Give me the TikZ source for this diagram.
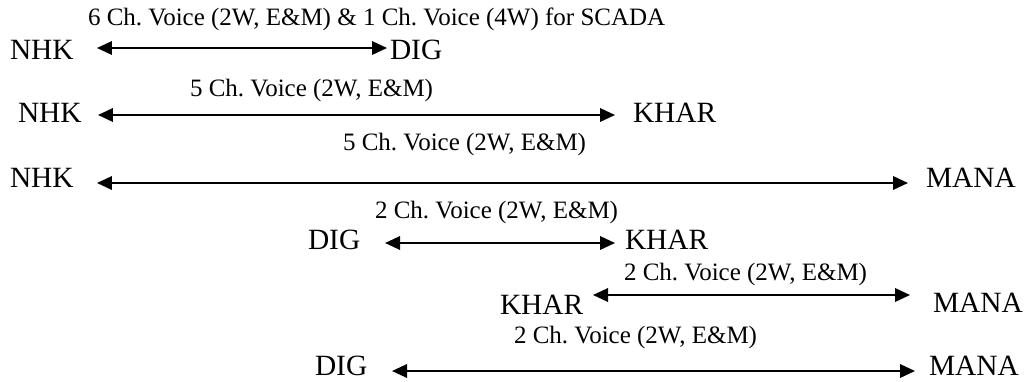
\documentclass[tikz,border=0pt]{standalone}
\usepackage{fontspec}
\setmainfont{Liberation Serif}
\usetikzlibrary{arrows.meta}
\frenchspacing
\begin{document}
\begin{tikzpicture}[x=1pt,y=-1pt,
  stn/.style={inner sep=0pt, outer sep=0pt, anchor=west, font=\fontsize{29.4pt}{35pt}\selectfont},
  lbl/.style={inner sep=0pt, outer sep=0pt, anchor=base west, font=\fontsize{25pt}{30pt}\selectfont},
  link/.style={line width=2pt, {Triangle[length=15pt,width=13.5pt]}-{Triangle[length=15pt,width=13.5pt]}}]
\useasboundingbox[fill=white] (0,0) rectangle (1028,381);
% row 1
\node[stn] (nhkA) at (10,50) {NHK};
\node[stn] (digA) at (390,50) {DIG};
\node[lbl] (lA) at (88,25) {6 Ch. Voice (2W, E\&M) \& 1 Ch. Voice (4W) for SCADA};
\draw[link] ([xshift=23.3pt,yshift=2pt]nhkA.east) -- ([xshift=-3pt,yshift=2pt]digA.west);
% row 2
\node[stn] (nhkB) at (18,113) {NHK};
\node[stn] (khB) at (633,113) {KHAR};
\node[lbl] (lB) at (190,96) {5 Ch. Voice (2W, E\&M)};
\draw[link] ([xshift=16.3pt,yshift=-2pt]nhkB.east) -- ([xshift=-18pt,yshift=-2pt]khB.west);
% row 3
\node[stn] (nhkC) at (10,178) {NHK};
\node[stn] (manaC) at (926,178) {MANA};
\node[lbl] (lC) at (343,150) {5 Ch. Voice (2W, E\&M)};
\draw[link] ([xshift=23.3pt,yshift=-5pt]nhkC.east) -- ([xshift=-18pt,yshift=-5pt]manaC.west);
% row 4
\node[stn] (digD) at (308,240) {DIG};
\node[stn] (khD) at (625,240) {KHAR};
\node[lbl] (lD) at (375,218) {2 Ch. Voice (2W, E\&M)};
\draw[link] ([xshift=24.8pt,yshift=-3pt]digD.east) -- ([xshift=-10pt,yshift=-3pt]khD.west);
% row 5
\node[stn] (khE) at (500,305) {KHAR};
\node[stn] (manaE) at (933,303) {MANA};
\node[lbl] (lE) at (624,280) {2 Ch. Voice (2W, E\&M)};
\draw[link] ([xshift=9.7pt,yshift=10pt]khE.east) -- ([xshift=-23pt,yshift=8pt]manaE.west);
% row 6
\node[stn] (digF) at (315,366) {DIG};
\node[stn] (manaF) at (929,366) {MANA};
\node[lbl] (lF) at (514,343) {2 Ch. Voice (2W, E\&M)};
\draw[link] ([xshift=24.8pt,yshift=-5pt]digF.east) -- ([xshift=-14pt,yshift=-5pt]manaF.west);
\end{tikzpicture}
\end{document}
